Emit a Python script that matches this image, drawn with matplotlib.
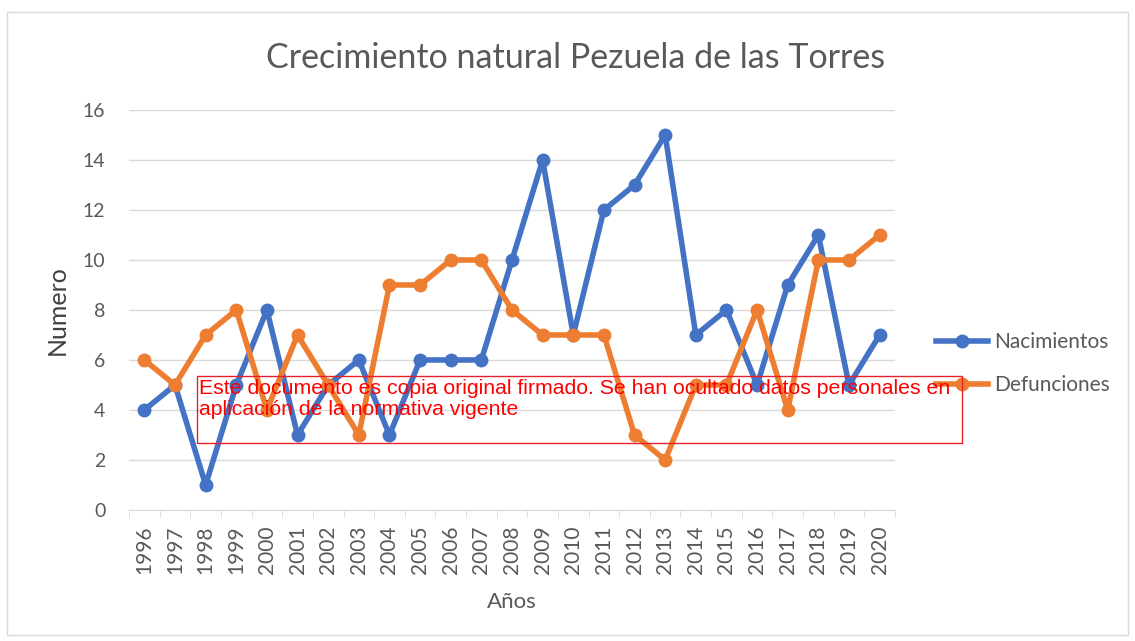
import matplotlib.pyplot as plt
from matplotlib.patches import Rectangle

plt.rcParams['font.family'] = ['Lato', 'DejaVu Sans']

years = [str(y) for y in range(1996, 2021)]
nacimientos = [4, 5, 1, 5, 8, 3, 5, 6, 3, 6, 6, 6, 10, 14, 7, 12, 13, 15, 7, 8, 5, 9, 11, 5, 7]
defunciones = [6, 5, 7, 8, 4, 7, 5, 3, 9, 9, 10, 10, 8, 7, 7, 7, 3, 2, 5, 5, 8, 4, 10, 10, 11]

blue = '#4472C4'
orange = '#ED7D31'
grey = '#595959'

fig = plt.figure(figsize=(11.35, 6.41), dpi=100)
ax = fig.add_axes([0.1137, 0.2044, 0.6748, 0.624])

x = range(len(years))
l1, = ax.plot(x, nacimientos, color=blue, lw=4, marker='o', ms=9, label='Nacimientos')
l2, = ax.plot(x, defunciones, color=orange, lw=4, marker='o', ms=9, label='Defunciones')

ax.set_xlim(-0.5, len(years) - 0.5)
ax.set_ylim(0, 16)
ax.set_yticks(range(0, 17, 2))
ax.set_xticks(list(x))
ax.set_xticklabels(years, rotation=90)
ax.set_xticks([i - 0.5 for i in range(len(years) + 1)], minor=True)
ax.tick_params(axis='x', which='major', length=0, pad=11, labelsize=15, labelcolor=grey)
ax.tick_params(axis='x', which='minor', length=5, color='#d9d9d9')
ax.tick_params(axis='y', length=0, pad=17, labelsize=14, labelcolor=grey)
ax.grid(axis='y', color='#d9d9d9', lw=1)
ax.set_axisbelow(True)
for s in ['top', 'right', 'left']:
    ax.spines[s].set_visible(False)
ax.spines['bottom'].set_color('#d9d9d9')

ax.set_ylabel('Numero', fontsize=18, color='#404040', labelpad=10)
ax.set_xlabel('Años', fontsize=16, color=grey, labelpad=13)
fig.text(0.507, 0.91, 'Crecimiento natural Pezuela de las Torres', fontsize=24.5,
         color=grey, ha='center', va='center')

fig.legend(handles=[l1, l2], loc='center left', bbox_to_anchor=(0.808, 0.433),
           frameon=False, fontsize=15, labelcolor=grey, handlelength=2.5,
           handletextpad=0.3, labelspacing=1.1)

# outer chart frame
fig.patches.append(Rectangle((0.006, 0.01), 0.988, 0.972, transform=fig.transFigure,
                             fill=False, edgecolor='#d9d9d9', lw=1))

# stamp box over the plot
fig.patches.append(Rectangle((197 / 1135, 1 - 443 / 641), 765 / 1135, 67 / 641,
                             transform=fig.transFigure, fill=False,
                             edgecolor='#e8202a', lw=1, zorder=10))
fig.text(199 / 1135, 1 - 379 / 641,
         'Este documento es copia original firmado. Se han ocultado datos personales en\n'
         'aplicación de la normativa vigente',
         family='Liberation Sans', fontsize=15.3, color='#ff0000', va='top',
         linespacing=1.12, zorder=11)

fig.savefig('out.png', dpi=100)
